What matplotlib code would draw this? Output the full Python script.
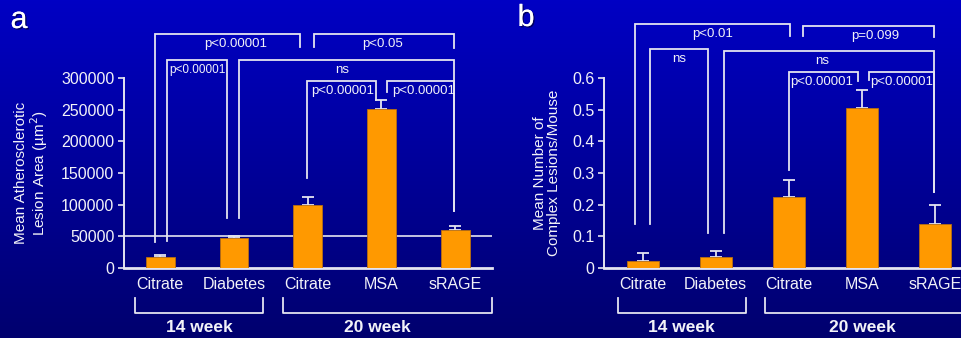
import numpy as np
import matplotlib
matplotlib.use("Agg")
import matplotlib.pyplot as plt
import matplotlib.patheffects as pe
from matplotlib.colors import LinearSegmentedColormap

plt.rcParams['font.family'] = ['Liberation Sans', 'DejaVu Sans']

groups = ["Citrate", "Diabetes", "Citrate", "MSA", "sRAGE"]
weeks = ["14 week", "20 week"]

lesion_area = [17000, 47500, 100000, 251000, 59500]
lesion_area_err = [2500, 2500, 11500, 14000, 7300]

complex_lesions = [0.021, 0.034, 0.223, 0.507, 0.138]
complex_lesions_err = [0.025, 0.018, 0.055, 0.056, 0.061]

# significance brackets: x0, x1, top, left foot, right foot, label, label x, font size
brackets_a = [
    (-0.07, 1.90, 370000, 41000, 349600, "p<0.00001", 1.03, 9.5),
    (2.09, 3.99, 370000, 349600, 348000, "p<0.05", 3.01, 9.5),
    (0.095, 0.91, 329000, 42800, 78700, "p<0.00001", 0.50, 8.5),
    (1.07, 3.99, 329000, 78700, 90300, "ns", 2.47, 9.5),
    (1.99, 2.93, 295700, 142100, 265600, "p<0.00001", 2.47, 9.5),
    (3.08, 3.99, 295700, 278300, 90300, "p<0.00001", 3.57, 9.5),
]
brackets_b = [
    (-0.11, 2.01, 0.772, 0.138, 0.734, "p<0.01", 0.95, 9.5),
    (2.19, 3.99, 0.766, 0.734, 0.731, "p=0.099", 3.18, 9.5),
    (0.10, 0.90, 0.693, 0.138, 0.110, "ns", 0.50, 9.5),
    (1.11, 3.99, 0.686, 0.110, 0.240, "ns", 2.45, 9.5),
    (2.00, 2.95, 0.620, 0.310, 0.591, "p<0.00001", 2.45, 9.5),
    (3.10, 3.99, 0.620, 0.595, 0.240, "p<0.00001", 3.55, 9.5),
]

W, H = 962, 338
fig = plt.figure(figsize=(W / 100, H / 100), dpi=100)

# blue gradient background
bg = fig.add_axes([0, 0, 1, 1], zorder=-10)
cmap = LinearSegmentedColormap.from_list("bg", ["#00006E", "#0000C4"])
bg.imshow(np.linspace(0, 1, 256)[:, None], aspect="auto", cmap=cmap,
          origin="lower", extent=[0, 1, 0, 1])
bg.axis("off")

LINE = "#E4E4F0"
TXT = "#F2F2F8"
shadow = [pe.withSimplePatchShadow(offset=(1, -1), shadow_rgbFace="black", alpha=0.5), pe.Normal()]


def bracket(ax, x0, x1, top, f0, f1, label, lx, fs):
    ax.plot([x0, x0, x1, x1], [f0, top, top, f1], color=LINE, lw=1.3,
            clip_on=False, solid_joinstyle="miter")
    ax.annotate(label, xy=(lx, top), xytext=(0, -3), textcoords="offset points",
                ha="center", va="top", fontsize=fs, color=TXT, annotation_clip=False)


def panel(rect, xlim, vals, errs, ymax, yticks, ylabels, ylabel, brackets,
          bw, week_spans, week_x):
    ax = fig.add_axes(rect)
    ax.set_facecolor("none")
    x = np.arange(len(groups))
    ax.bar(x, vals, width=bw, color="#FF9900", edgecolor="#B86E10", lw=0.6, zorder=3)
    ax.errorbar(x, vals, yerr=[np.zeros(len(vals)), errs], fmt="none",
                ecolor=LINE, elinewidth=1.3, capsize=4, capthick=1.3, zorder=2)
    ax.set_xlim(*xlim)
    ax.set_ylim(0, ymax)
    for s in ["top", "right"]:
        ax.spines[s].set_visible(False)
    ax.spines["left"].set_color(LINE)
    ax.spines["left"].set_linewidth(1.4)
    ax.spines["bottom"].set_color(LINE)
    ax.spines["bottom"].set_linewidth(2)
    ax.set_yticks(yticks)
    ax.set_yticklabels(ylabels)
    ax.set_xticks(x)
    ax.set_xticklabels(groups)
    ax.tick_params(axis="y", colors=LINE, labelcolor=TXT, labelsize=11.5,
                   length=4, width=1.2, direction="out", pad=3)
    ax.tick_params(axis="x", length=0, labelcolor=TXT, labelsize=11.5, pad=7)
    ax.set_ylabel(ylabel, color=TXT, fontsize=11, linespacing=1.0, labelpad=8)
    for b in brackets:
        bracket(ax, *b)
    # week group brackets under the axis
    ytop, ybot, ylab = -0.16 * ymax, -0.24 * ymax, -0.315 * ymax
    for (x0, x1), wx, wl in zip(week_spans, week_x, weeks):
        ax.plot([x0, x0, x1, x1], [ytop, ybot, ybot, ytop], color=LINE, lw=1.3,
                clip_on=False)
        ax.text(wx, ylab, wl, ha="center", va="center", fontsize=12.5,
                fontweight="bold", color=TXT, clip_on=False)
    return ax


bottom = (H - 267.7) / H
height = 189.4 / H

ax_a = panel([124 / W, bottom, (492 - 124) / W, height], (-0.49, 4.5),
             lesion_area, lesion_area_err, 300000,
             np.arange(0, 300001, 50000),
             [str(v) for v in range(0, 300001, 50000)],
             "Mean Atherosclerotic\nLesion Area (\u00b5m$^2$)", brackets_a,
             0.39, [(-0.34, 1.40), (1.66, 4.5)], [0.53, 2.94])
ax_a.axhline(50000, color=LINE, lw=1.2, zorder=1)

ax_b = panel([604 / W, bottom, (962 - 604) / W, height], (-0.53, 4.37),
             complex_lesions, complex_lesions_err, 0.6,
             np.round(np.arange(0, 0.61, 0.1), 1),
             ["0", "0.1", "0.2", "0.3", "0.4", "0.5", "0.6"],
             "Mean Number of\nComplex Lesions/Mouse", brackets_b,
             0.44, [(-0.34, 1.41), (1.67, 4.6)], [0.53, 3.01])

fig.text(19 / W, 1 - 20 / H, "a", fontsize=22, color="white", ha="center",
         va="center", path_effects=shadow)
fig.text(526 / W, 1 - 18 / H, "b", fontsize=22, color="white", ha="center",
         va="center", path_effects=shadow)

fig.savefig("out.png", dpi=100)
